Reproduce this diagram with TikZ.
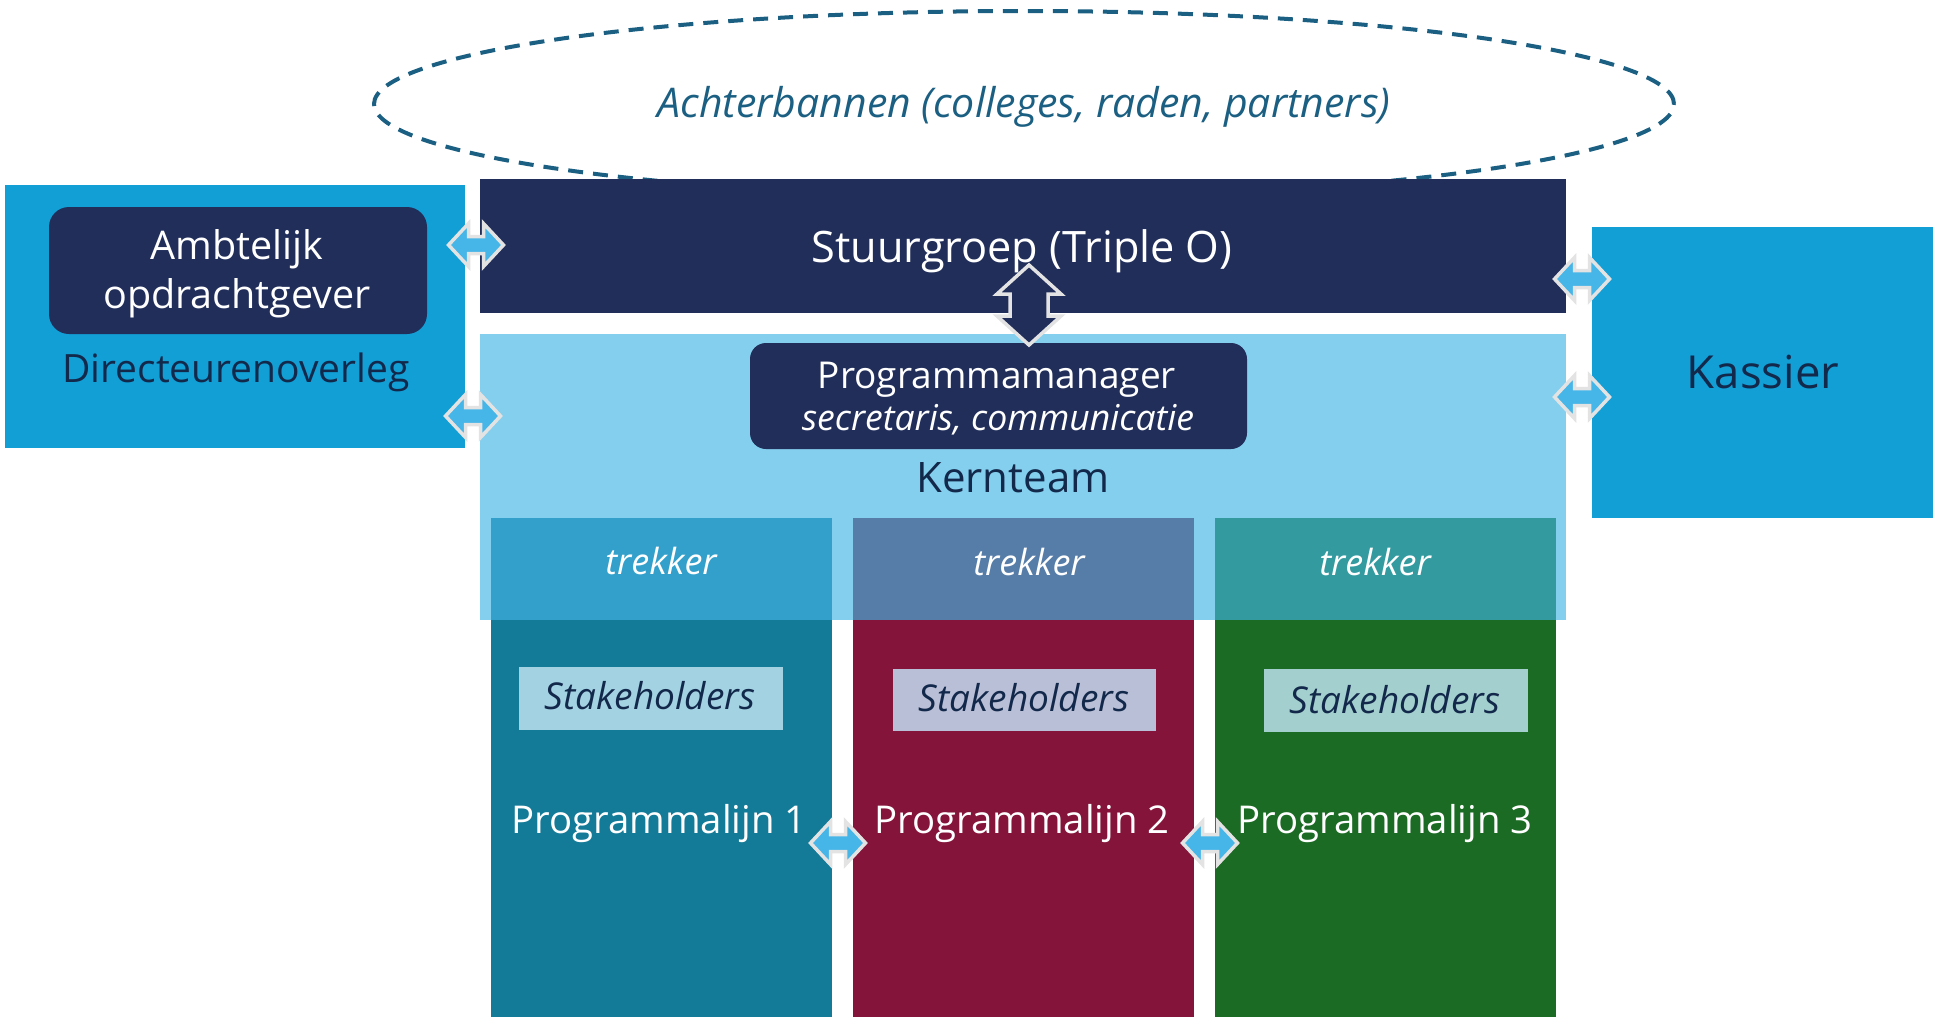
\documentclass[tikz,border=0pt]{standalone}
\usepackage{fontspec}
\setmainfont{Open Sans}
\usetikzlibrary{shapes.geometric}

\definecolor{dirblue}{HTML}{119FD6}
\definecolor{navy}{HTML}{212E5A}
\definecolor{kernblue}{HTML}{84CFEE}
\definecolor{trekA}{HTML}{33A0CC}
\definecolor{trekB}{HTML}{567CA8}
\definecolor{trekC}{HTML}{339A9F}
\definecolor{lijnA}{HTML}{137A98}
\definecolor{lijnB}{HTML}{841439}
\definecolor{lijnC}{HTML}{1B6B24}
\definecolor{stakeA}{HTML}{A3D2E3}
\definecolor{stakeB}{HTML}{B9BFD6}
\definecolor{stakeC}{HTML}{A3D0CE}
\definecolor{achtercol}{HTML}{1B5F82}
\definecolor{darktext}{HTML}{13294B}
\definecolor{arrowfill}{HTML}{46B5E8}
\definecolor{arrowline}{HTML}{E3E3E3}

\newcommand{\fsz}[1]{\fontsize{#1}{#1}\selectfont}

\tikzset{
	blok/.style={anchor=north west,inner sep=0pt,outer sep=0pt},
	lbl/.style={anchor=base,inner sep=0pt},
	% dubbele blokpijl: halve lengte, halve kopbreedte, halve steelbreedte, koplengte
	pics/pijl/.style n args={4}{code={
		\path[draw=arrowline,line width=3.5pt,line join=miter,pic actions]
			(-#1,0) -- ({-#1+#4},-#2) -- ({-#1+#4},-#3) -- ({#1-#4},-#3)
			-- ({#1-#4},-#2) -- (#1,0) -- ({#1-#4},#2) -- ({#1-#4},#3)
			-- ({-#1+#4},#3) -- ({-#1+#4},#2) -- cycle;
	}},
}

\begin{document}
\begin{tikzpicture}[x=1pt,y=-1pt]
	\useasboundingbox (0,0) rectangle (1933,1017);
	% achterbannen
	\node[ellipse,draw=achtercol,line width=4pt,dash pattern=on 15pt off 10pt,
		minimum width=1300pt,minimum height=186pt] (achter) at (1024,104) {};
	\node[lbl,text=achtercol] (achtertxt) at (1024,117)
		{\fsz{41}\itshape Achterbannen (colleges, raden, partners)};
	%
	\node[blok,fill=dirblue,minimum width=460pt,minimum height=263pt] (dir) at (5,185) {};
	\node[blok,fill=navy,rounded corners=20pt,minimum width=378pt,minimum height=127pt] (amb) at (49,207) {};
	\node[lbl,text=white] (ambA) at (237,259) {\fsz{39.5}Ambtelijk};
	\node[lbl,text=white] (ambB) at (237,308) {\fsz{39.5}opdrachtgever};
	\node[lbl,text=darktext] (dirtxt) at (236,382) {\fsz{39}Directeurenoverleg};
	%
	\node[blok,fill=navy,minimum width=1086pt,minimum height=134pt] (stuur) at (480,179) {};
	\node[lbl,text=white] (stuurtxt) at (1022,262) {\fsz{43.3}Stuurgroep (Triple O)};
	%
	\node[blok,fill=kernblue,minimum width=1086pt,minimum height=286pt] (kern) at (480,334) {};
	\node[blok,fill=navy,rounded corners=16pt,minimum width=497pt,minimum height=106pt] (pm) at (750,343) {};
	\node[lbl,text=white] (pmA) at (997,388) {\fsz{37}Programmamanager};
	\node[lbl,text=white] (pmB) at (998,430) {\fsz{35.6}\itshape secretaris, communicatie};
	\node[lbl,text=darktext] (kerntxt) at (1013,492) {\fsz{42}Kernteam};
	%
	\node[blok,fill=dirblue,minimum width=341pt,minimum height=291pt] (kas) at (1592,227) {};
	\node[lbl,text=darktext] (kastxt) at (1763,388) {\fsz{45.5}Kassier};
	%
	% programmalijnen
	\node[blok,fill=lijnA,minimum width=341pt,minimum height=499pt] (lijn1) at (491,518) {};
	\node[blok,fill=lijnB,minimum width=341pt,minimum height=499pt] (lijn2) at (853,518) {};
	\node[blok,fill=lijnC,minimum width=341pt,minimum height=499pt] (lijn3) at (1215,518) {};
	\node[blok,fill=trekA,minimum width=341pt,minimum height=102pt] (trek1) at (491,518) {};
	\node[blok,fill=trekB,minimum width=341pt,minimum height=102pt] (trek2) at (853,518) {};
	\node[blok,fill=trekC,minimum width=341pt,minimum height=102pt] (trek3) at (1215,518) {};
	\node[lbl,text=white] (trek1txt) at (661,574) {\fsz{36}\itshape trekker};
	\node[lbl,text=white] (trek2txt) at (1029,575) {\fsz{36}\itshape trekker};
	\node[lbl,text=white] (trek3txt) at (1375,575) {\fsz{36}\itshape trekker};
	%
	\node[blok,fill=stakeA,minimum width=264pt,minimum height=63pt] (stake1) at (519,667) {};
	\node[blok,fill=stakeB,minimum width=263pt,minimum height=62pt] (stake2) at (893,669) {};
	\node[blok,fill=stakeC,minimum width=264pt,minimum height=63pt] (stake3) at (1264,669) {};
	\node[lbl,text=darktext] (stake1txt) at (650,709) {\fsz{37}\itshape Stakeholders};
	\node[lbl,text=darktext] (stake2txt) at (1024,711) {\fsz{37}\itshape Stakeholders};
	\node[lbl,text=darktext] (stake3txt) at (1395,713) {\fsz{37}\itshape Stakeholders};
	%
	\node[lbl,text=white] (lijn1txt) at (659,833) {\fsz{38.3}Programmalijn 1};
	\node[lbl,text=white] (lijn2txt) at (1022,833) {\fsz{38.3}Programmalijn 2};
	\node[lbl,text=white] (lijn3txt) at (1385,833) {\fsz{38.3}Programmalijn 3};
	%
	% pijlen
	\pic[fill=arrowfill] (p1) at (476,245) {pijl={27.5}{21.5}{8.5}{20}};
	\pic[fill=arrowfill] (p2) at (473,416) {pijl={27.5}{21.5}{8.5}{20}};
	\pic[fill=arrowfill] (p3) at (1582,279) {pijl={27.5}{21.5}{8.5}{20}};
	\pic[fill=arrowfill] (p4) at (1582,397) {pijl={27.5}{21.5}{8.5}{20}};
	\pic[fill=arrowfill] (p5) at (838,843) {pijl={27.5}{21.5}{8.5}{20}};
	\pic[fill=arrowfill] (p6) at (1210,843) {pijl={27.5}{21.5}{8.5}{20}};
	\pic[fill=navy,rotate=90] (p7) at (1029,305) {pijl={40}{32}{19}{29}};
\end{tikzpicture}
\end{document}
